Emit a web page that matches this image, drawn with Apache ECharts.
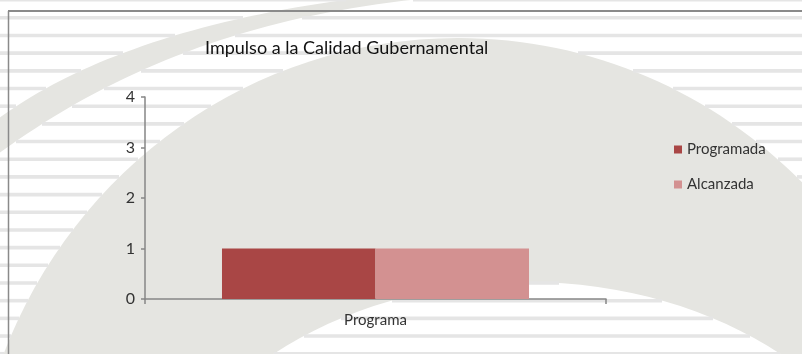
<!DOCTYPE html>
<html>
<head>
<meta charset="utf-8">
<script src="https://cdn.jsdelivr.net/npm/echarts@6/dist/echarts.min.js"></script>
<style>
  html, body { margin: 0; padding: 0; background: #ffffff; }
  #chart { width: 802px; height: 354px; }
</style>
</head>
<body>
<div id="chart"></div>
<script>
// Chart data
const titleText = 'Impulso a la Calidad Gubernamental';
const categories = ['Programa'];
const seriesNames = ['Programada', 'Alcanzada'];
const programada = [1];
const alcanzada = [1];
const yTicks = [0, 1, 2, 3, 4];

const FONT = 'Lato';
const W = 802;

// Turn a chain of cubic segments into polygon points
function sampleCurve(start, segs) {
  const pts = [[start[0], start[1]]];
  let p0 = start;
  segs.forEach(function (s) {
    if (s.length === 2) { pts.push([s[0], s[1]]); p0 = s; return; }
    const c1 = s[0], c2 = s[1], p3 = s[2];
    for (let i = 1; i <= 40; i++) {
      const t = i / 40, u = 1 - t;
      pts.push([
        u*u*u*p0[0] + 3*u*u*t*c1[0] + 3*u*t*t*c2[0] + t*t*t*p3[0],
        u*u*u*p0[1] + 3*u*u*t*c1[1] + 3*u*t*t*c2[1] + t*t*t*p3[1]
      ]);
    }
    p0 = p3;
  });
  return pts;
}
function inPolygon(pts, x, y) {
  let inside = false;
  for (let i = 0, j = pts.length - 1; i < pts.length; j = i++) {
    const a = pts[i], b = pts[j];
    if ((a[1] > y) !== (b[1] > y) &&
        x < (b[0] - a[0]) * (y - a[1]) / (b[1] - a[1]) + a[0]) inside = !inside;
  }
  return inside;
}
function inEllipse(e, x, y) {
  const dx = (x - e.cx) / e.rx, dy = (y - e.cy) / e.ry;
  return dx * dx + dy * dy < 1;
}

const BG_GREY = '#e5e5e1';
const RULE = '#e5e5e5';
const RULE_H = 3.6;

// Background shapes: a large swoop with a white opening at its foot,
// and a thin arc band in the upper left
const swoop = { cx: 458, cy: 532, rx: 487, ry: 494 };
const opening = { cx: 527, cy: 582, rx: 390, ry: 300 };
const band = sampleCurve([-10, 125], [
  [[60, 70], [180, 20], [360, -2]],
  [430, -2],
  [[250, 15], [110, 70], [-10, 160]]
]);
function isGrey(x, y) {
  if (inPolygon(band, x, y)) return true;
  return inEllipse(swoop, x, y) && !inEllipse(opening, x, y);
}

const deco = [];
deco.push({ type: 'ellipse', silent: true, z: -20,
  shape: swoop, style: { fill: BG_GREY } });
deco.push({ type: 'ellipse', silent: true, z: -19,
  shape: opening, style: { fill: '#ffffff' } });
deco.push({ type: 'polygon', silent: true, z: -19,
  shape: { points: band }, style: { fill: BG_GREY } });

// horizontal rules, drawn only across the white parts of the page
const stripeTops = [-2];
for (let k = 0; k < 20; k++) stripeTops.push(16 + k * 17.68);
stripeTops.forEach(function (y) {
  const ym = y + RULE_H / 2;
  let runStart = null;
  for (let x = 0; x <= W; x++) {
    const white = x < W && !isGrey(x + 0.5, ym);
    if (white && runStart === null) runStart = x;
    if (!white && runStart !== null) {
      deco.push({ type: 'rect', silent: true, z: -15,
        shape: { x: runStart, y: y, width: x - runStart, height: RULE_H },
        style: { fill: RULE } });
      runStart = null;
    }
  }
});

// frame lines
deco.push({ type: 'line', silent: true, z: -10,
  shape: { x1: 8, y1: 11, x2: W, y2: 11 },
  style: { stroke: '#8a8a8a', lineWidth: 2 } });
deco.push({ type: 'line', silent: true, z: -10,
  shape: { x1: 8.5, y1: 11, x2: 8.5, y2: 354 },
  style: { stroke: '#8a8a8a', lineWidth: 1.5 } });

const chart = echarts.init(document.getElementById('chart'), null, { renderer: 'canvas' });
chart.setOption({
  animation: false,
  backgroundColor: '#ffffff',
  textStyle: { fontFamily: FONT },
  graphic: { elements: deco },
  title: {
    text: titleText,
    left: 200, top: 34,
    textStyle: { fontFamily: FONT, fontSize: 18, fontWeight: 'normal', color: '#111111' }
  },
  legend: {
    data: seriesNames,
    orient: 'vertical',
    left: 669, top: 137,
    itemWidth: 8, itemHeight: 8,
    itemGap: 20,
    icon: 'rect',
    textStyle: { fontFamily: FONT, fontSize: 15, color: '#333333' }
  },
  grid: { left: 145, right: 196, top: 97, bottom: 55, containLabel: false },
  xAxis: {
    type: 'category',
    data: categories,
    boundaryGap: true,
    axisLine: { lineStyle: { color: '#868686', width: 1.5 } },
    axisTick: { show: true, length: 5, lineStyle: { color: '#868686', width: 1.5 } },
    axisLabel: { fontFamily: FONT, fontSize: 15, color: '#333333', margin: 14 }
  },
  yAxis: {
    type: 'value',
    min: yTicks[0], max: yTicks[yTicks.length - 1], interval: 1,
    axisLine: { show: true, lineStyle: { color: '#868686', width: 1.5 } },
    axisTick: { show: true, length: 4, lineStyle: { color: '#868686', width: 1.5 } },
    splitLine: { show: false },
    axisLabel: { fontFamily: FONT, fontSize: 16, color: '#333333', margin: 10 }
  },
  series: [
    { name: seriesNames[0], type: 'bar', data: programada,
      barGap: '0%', barCategoryGap: '33.4%',
      itemStyle: { color: '#a94645' } },
    { name: seriesNames[1], type: 'bar', data: alcanzada,
      barGap: '0%', barCategoryGap: '33.4%',
      itemStyle: { color: '#d39191' } }
  ]
});
</script>
</body>
</html>
